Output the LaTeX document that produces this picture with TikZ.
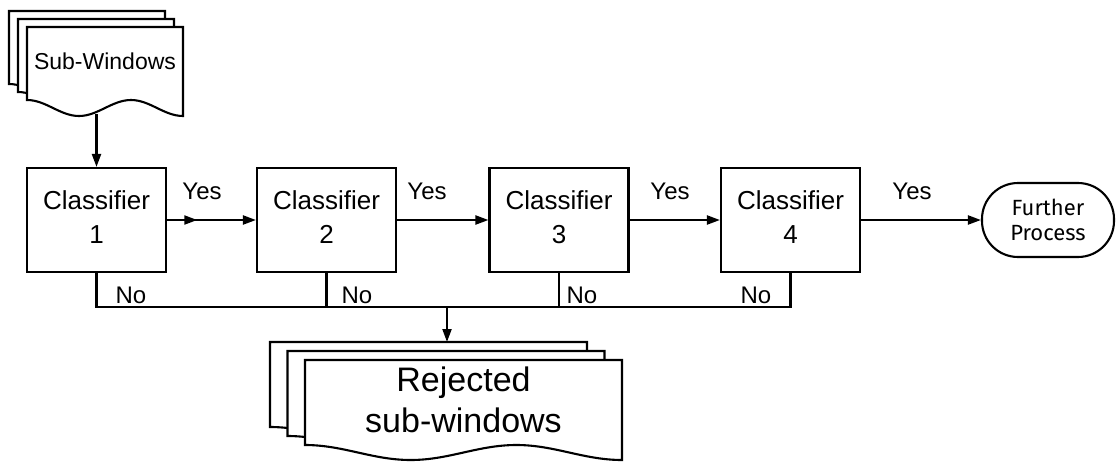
\documentclass[tikz,border=0pt]{standalone}
\usepackage{fontspec}
\setmainfont{Liberation Sans}
\newfontfamily\fpfont{Fira Sans}
\usetikzlibrary{arrows.meta,calc}
\newcommand{\docsheet}[5]{%
  \pgfmathsetmacro{\dsx}{#1}\pgfmathsetmacro{\dsy}{#2}%
  \pgfmathsetmacro{\dsw}{#3}\pgfmathsetmacro{\dsh}{#4}\pgfmathsetmacro{\dsa}{#5}%
  \pgfmathsetmacro{\dsl}{\dsw/3}%
  \pgfmathsetmacro{\dsc}{0.3642*\dsl}%
  \draw[sheet] (\dsx,\dsy) -- (\dsx+\dsw,\dsy) -- (\dsx+\dsw,\dsy+\dsh+\dsa)
    .. controls (\dsx+\dsw-\dsc,\dsy+\dsh+\dsa) and (\dsx+2*\dsl+\dsc,\dsy+\dsh) .. (\dsx+2*\dsl,\dsy+\dsh)
    .. controls (\dsx+2*\dsl-\dsc,\dsy+\dsh) and (\dsx+\dsl+\dsc,\dsy+\dsh+\dsa) .. (\dsx+\dsl,\dsy+\dsh+\dsa)
    .. controls (\dsx+\dsl-\dsc,\dsy+\dsh+\dsa) and (\dsx+\dsc,\dsy+\dsh) .. (\dsx,\dsy+\dsh) -- cycle;}
\begin{document}
\begin{tikzpicture}[x=1pt,y=-1pt,
  line width=2.1pt,
  sheet/.style={draw=black,fill=white,line width=2.1pt,line join=miter},
  clf/.style={draw,fill=white,minimum width=139pt,minimum height=104pt,inner sep=0pt},
  clftext/.style={inner sep=0pt,align=center,font=\fontsize{26pt}{34pt}\selectfont},
  lbl/.style={anchor=base,inner sep=0pt,font=\fontsize{24pt}{28pt}\selectfont},
  arr/.style={-{Triangle[length=13pt,width=9pt]}},
  term/.style={draw,fill=white,minimum width=132pt,minimum height=74pt,rounded corners=36pt,
    inner sep=0pt,align=center,font=\fpfont\fontsize{22pt}{25pt}\selectfont}]
\useasboundingbox (0,0) rectangle (1116,461);
% Sub-Windows stack
\docsheet{9}{11}{156}{73}{16}
\docsheet{18}{19}{156}{73}{16}
\docsheet{27}{27}{156}{73}{16}
\node[inner sep=0pt,font=\fontsize{23pt}{26pt}\selectfont] (subw) at (105,61) {Sub-Windows};
\coordinate (subwbot) at (96.5,114);
% Classifiers
\node[clf] (c1) at (96.5,220) {};
\node[clf] (c2) at (326.5,220) {};
\node[clf] (c3) at (559,220) {};
\node[clf] (c4) at (790.5,220) {};
\node[clftext] (t1) at ([yshift=3]c1.center) {Classifier\\1};
\node[clftext] (t2) at ([yshift=3]c2.center) {Classifier\\2};
\node[clftext] (t3) at ([yshift=3]c3.center) {Classifier\\3};
\node[clftext] (t4) at ([yshift=3]c4.center) {Classifier\\4};
\node[term] (fp) at (1048,220) {Further\\Process};
% Yes arrows
\path (c1.east) -- (c2.west) coordinate[pos=0.34] (mid1);
\draw[arr] (c1.east) -- (mid1);
\draw[arr] (c1.east) -- (c2.west);
\draw[arr] (c2.east) -- (c3.west);
\draw[arr] (c3.east) -- (c4.west);
\draw[arr] (c4.east) -- (fp.west);
\node[lbl] (y1) at (202,199) {Yes};
\node[lbl] (y2) at (427,199) {Yes};
\node[lbl] (y3) at (670,199) {Yes};
\node[lbl] (y4) at (912,199) {Yes};
% input arrow
\draw[arr] (subwbot) -- (c1.north);
% No bus
\coordinate (bus) at (447,307);
\draw[line join=miter] (c1.south) |- (c4.south |- bus) -- (c4.south);
\draw (c2.south) -- (c2.south |- bus);
\draw (c3.south) -- (c3.south |- bus);
\node[lbl] (n1) at (131,303) {No};
\node[lbl] (n2) at (357,303) {No};
\node[lbl] (n3) at (582,303) {No};
\node[lbl] (n4) at (756,303) {No};
% Rejected stack
\docsheet{270}{342}{317}{85}{15}
\docsheet{287.5}{351}{317}{85}{15}
\docsheet{305}{360}{317}{85}{15}
\coordinate (rejtop) at (447,342);
\draw[arr] (bus) -- (rejtop);
\node[align=center,inner sep=0pt,font=\fontsize{34pt}{41pt}\selectfont] (rej) at (463.5,400) {Rejected\\sub-windows};
\end{tikzpicture}
\end{document}
